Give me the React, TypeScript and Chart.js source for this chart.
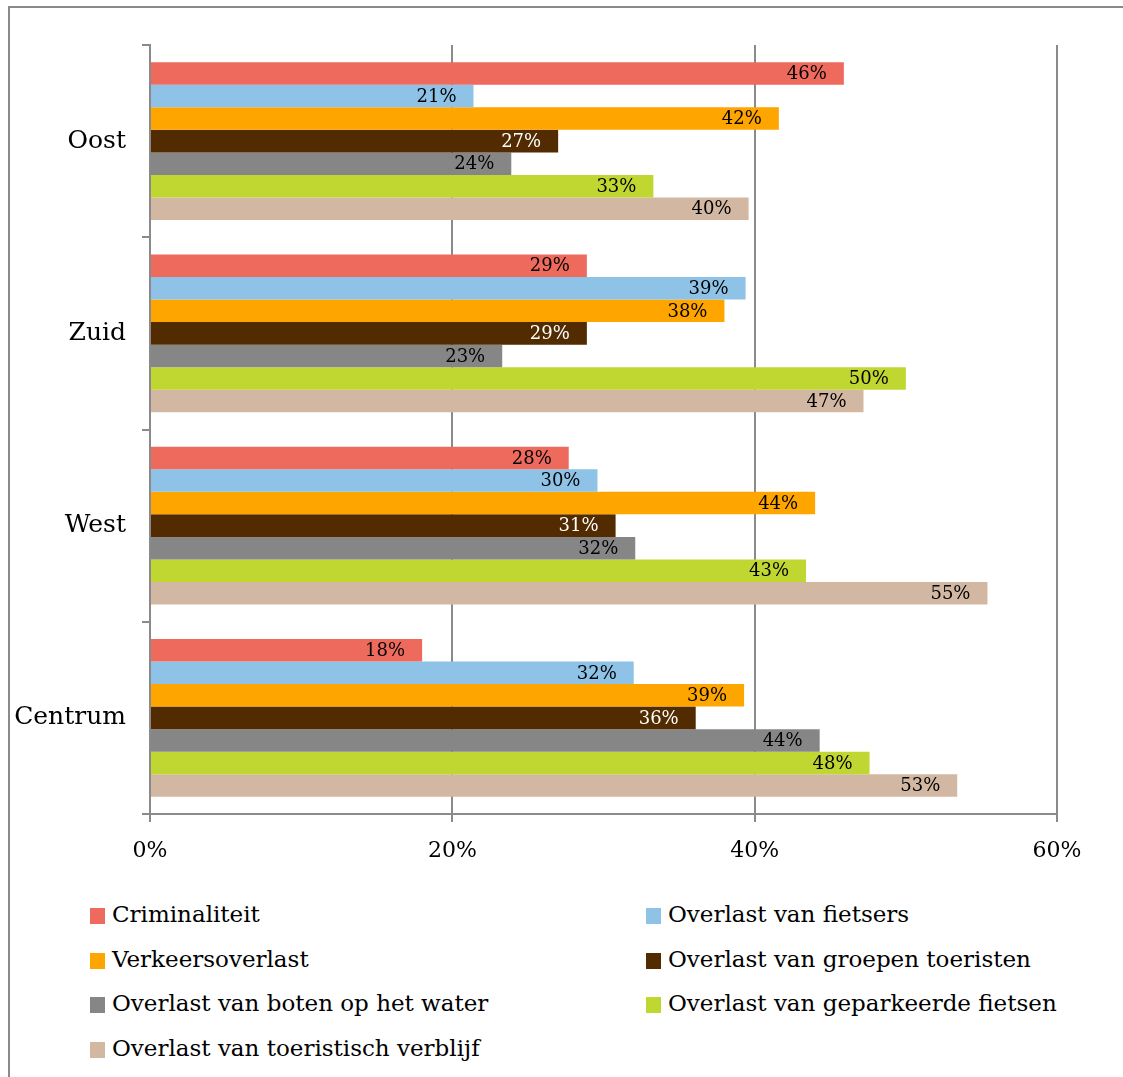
import React, { useEffect, useRef } from "react";
import { Chart, registerables } from "chart.js";

Chart.register(...registerables);

const categories = ["Oost", "Zuid", "West", "Centrum"];
const seriesNames = [
  "Criminaliteit",
  "Overlast van fietsers",
  "Verkeersoverlast",
  "Overlast van groepen toeristen",
  "Overlast van boten op het water",
  "Overlast van geparkeerde fietsen",
  "Overlast van toeristisch verblijf",
];
const criminaliteit = [45.9, 28.9, 27.7, 18.0];
const fietsers = [21.4, 39.4, 29.6, 32.0];
const verkeer = [41.6, 38.0, 44.0, 39.3];
const groepen = [27.0, 28.9, 30.8, 36.1];
const boten = [23.9, 23.3, 32.1, 44.3];
const geparkeerd = [33.3, 50.0, 43.4, 47.6];
const verblijf = [39.6, 47.2, 55.4, 53.4];
const seriesValues = [criminaliteit, fietsers, verkeer, groepen, boten, geparkeerd, verblijf];
const colors = ["#EE6A5D", "#8EC3E7", "#FFA500", "#522B00", "#868686", "#BFD730", "#D2B7A2"];
const labelColors = ["#000", "#000", "#000", "#fff", "#000", "#000", "#000"];
const xTicks = [0, 20, 40, 60];

const FONT = "'DejaVu Serif', serif";
const GRID = "#8a8a8a";

const valueLabels = {
  id: "valueLabels",
  afterDatasetsDraw(chart: any) {
    const ctx = chart.ctx;
    ctx.save();
    ctx.font = `18px ${FONT}`;
    ctx.textAlign = "right";
    ctx.textBaseline = "middle";
    chart.data.datasets.forEach((ds: any, di: number) => {
      const meta = chart.getDatasetMeta(di);
      meta.data.forEach((el: any, i: number) => {
        ctx.fillStyle = labelColors[di];
        ctx.fillText(Math.round(ds.data[i]) + "%", el.x - 17, el.y + 1);
      });
    });
    ctx.restore();
  },
};

export default function App() {
  const ref = useRef<HTMLCanvasElement | null>(null);
  useEffect(() => {
    if (!ref.current) return;
    const chart = new Chart(ref.current, {
      type: "bar",
      data: {
        labels: categories,
        datasets: seriesNames.map((n, i) => ({
          label: n,
          data: seriesValues[i],
          backgroundColor: colors[i],
          borderWidth: 0,
          barPercentage: 1,
          categoryPercentage: 0.82,
        })),
      },
      options: {
        indexAxis: "y",
        animation: false,
        responsive: false,
        devicePixelRatio: 1,
        layout: { padding: { left: 0, top: 45, right: 66, bottom: 0 } },
        plugins: { legend: { display: false }, tooltip: { enabled: false } },
        scales: {
          x: {
            min: 0,
            max: 60,
            afterBuildTicks: (scale: any) => {
              scale.ticks = xTicks.map((v) => ({ value: v }));
            },
            afterFit: (scale: any) => {
              scale.height = 66;
            },
            ticks: {
              callback: (v: any) => v + "%",
              color: "#000",
              font: { family: FONT, size: 22 },
              padding: 16,
            },
            grid: { color: GRID, lineWidth: 2, tickLength: 8, drawTicks: true },
            border: { display: true, color: GRID, width: 2 },
          },
          y: {
            afterFit: (scale: any) => {
              scale.width = 150;
            },
            ticks: {
              color: "#000",
              font: { family: FONT, size: 25 },
              padding: 16,
            },
            grid: { drawOnChartArea: false, color: GRID, lineWidth: 2, tickLength: 8, offset: true },
            border: { display: true, color: GRID, width: 2 },
          },
        },
      },
      plugins: [valueLabels],
    });
    return () => chart.destroy();
  }, []);

  const rows = [916, 961, 1005, 1050];
  const legendItems = seriesNames.map((n, i) => ({
    name: n,
    color: colors[i],
    x: i % 2 === 0 ? 90 : 646,
    y: rows[Math.floor(i / 2)],
  }));

  return (
    <div style={{ position: "absolute", left: 0, top: 0, width: 1123, height: 1077, overflow: "hidden", background: "#fff" }}>
      <div
        style={{
          position: "absolute",
          left: 8,
          top: 6,
          width: 1200,
          height: 1200,
          borderLeft: `2px solid ${GRID}`,
          borderTop: `2px solid ${GRID}`,
        }}
      />
      <canvas ref={ref} width={1123} height={880} style={{ position: "absolute", left: 0, top: 0 }} />
      {legendItems.map((it) => (
        <React.Fragment key={it.name}>
          <div
            style={{
              position: "absolute",
              left: it.x,
              top: it.y - 8,
              width: 15,
              height: 16,
              background: it.color,
            }}
          />
          <div
            style={{
              position: "absolute",
              left: it.x + 22,
              top: it.y - 17,
              lineHeight: "30px",
              fontSize: 23,
              fontFamily: FONT,
              color: "#000",
              whiteSpace: "nowrap",
            }}
          >
            {it.name}
          </div>
        </React.Fragment>
      ))}
    </div>
  );
}
